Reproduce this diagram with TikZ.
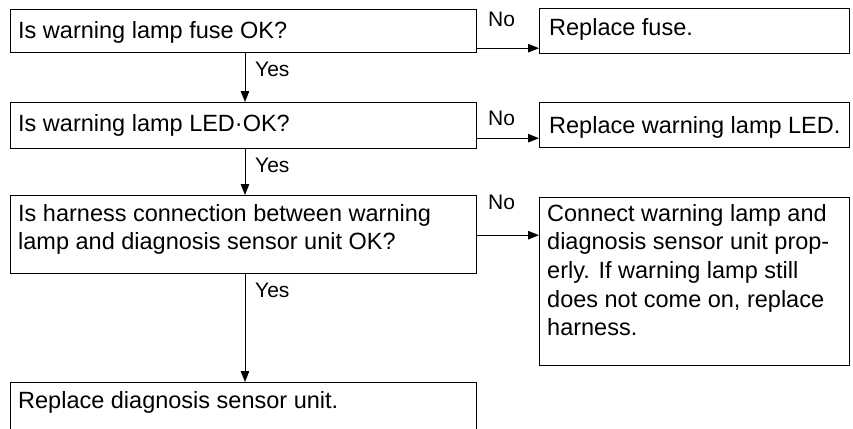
\documentclass[tikz,border=0pt]{standalone}
\usepackage{fontspec}
\setmainfont{Liberation Sans}
\usetikzlibrary{arrows.meta}
\begin{document}
\begin{tikzpicture}[x=1pt,y=-1pt,
  box/.style={draw, line width=1.2pt, inner sep=0pt, anchor=north west},
  txt/.style={inner sep=0pt, anchor=base west, font=\fontsize{23.5}{28.6}\selectfont},
  para/.style={inner sep=0pt, anchor=north west, align=left, font=\fontsize{23.5}{28.6}\selectfont},
  lbl/.style={inner sep=0pt, anchor=base west, font=\fontsize{21}{25}\selectfont},
  flow/.style={line width=1pt, -{Triangle[length=11pt,width=8.5pt]}}]
\useasboundingbox (0,0) rectangle (853,428);
\clip (0,0) rectangle (853,428);
% boxes
\node[box, minimum width=466pt, minimum height=43pt] (q1) at (10,9) {};
\node[box, minimum width=466pt, minimum height=46pt] (q2) at (10,102) {};
\node[box, minimum width=466pt, minimum height=78pt] (q3) at (10,195) {};
\node[box, minimum width=466pt, minimum height=60pt] (q4) at (10,382) {};
\node[box, minimum width=310pt, minimum height=45pt] (a1) at (539,8) {};
\node[box, minimum width=310pt, minimum height=45pt] (a2) at (539,102) {};
\node[box, minimum width=310pt, minimum height=168pt] (a3) at (539,197) {};
% texts
\node[txt] (t1) at (18,38) {Is warning lamp fuse OK?};
\node[txt] (t2) at (18,131) {Is warning lamp LED·OK?};
\node[para] (t3) at (18,204) {Is harness connection between warning\\lamp and diagnosis sensor unit OK?};
\node[txt] (t4) at (18,408) {Replace diagnosis sensor unit.};
\node[txt] (r1) at (549,36) {Replace fuse.};
\node[txt] (r2) at (549,133) {Replace warning lamp LED.};
\node[para] (r3) at (547,204) {Connect warning lamp and\\diagnosis sensor unit prop-\\erly. If warning lamp still\\does not come on, replace\\harness.};
% yes arrows
\draw[flow] ([xshift=235pt]q1.south west) -- ([xshift=235pt]q2.north west);
\draw[flow] ([xshift=235pt]q2.south west) -- ([xshift=235pt]q3.north west);
\draw[flow] ([xshift=235pt]q3.south west) -- ([xshift=235pt]q4.north west);
% no arrows
\draw[flow] ([yshift=5pt]q1.south east) coordinate (n1) -- (n1 -| a1.west);
\draw[flow] ([yshift=11pt]q2.south east) coordinate (n2) -- (n2 -| a2.west);
\draw[flow] ([yshift=39pt]q3.south east) coordinate (n3) -- (n3 -| a3.west);
% labels
\node[lbl] (y1) at (255,77) {Yes};
\node[lbl] (y2) at (255,172) {Yes};
\node[lbl] (y3) at (255,297) {Yes};
\node[lbl] (m1) at (488,27) {No};
\node[lbl] (m2) at (488,125) {No};
\node[lbl] (m3) at (488,209) {No};
\end{tikzpicture}
\end{document}
